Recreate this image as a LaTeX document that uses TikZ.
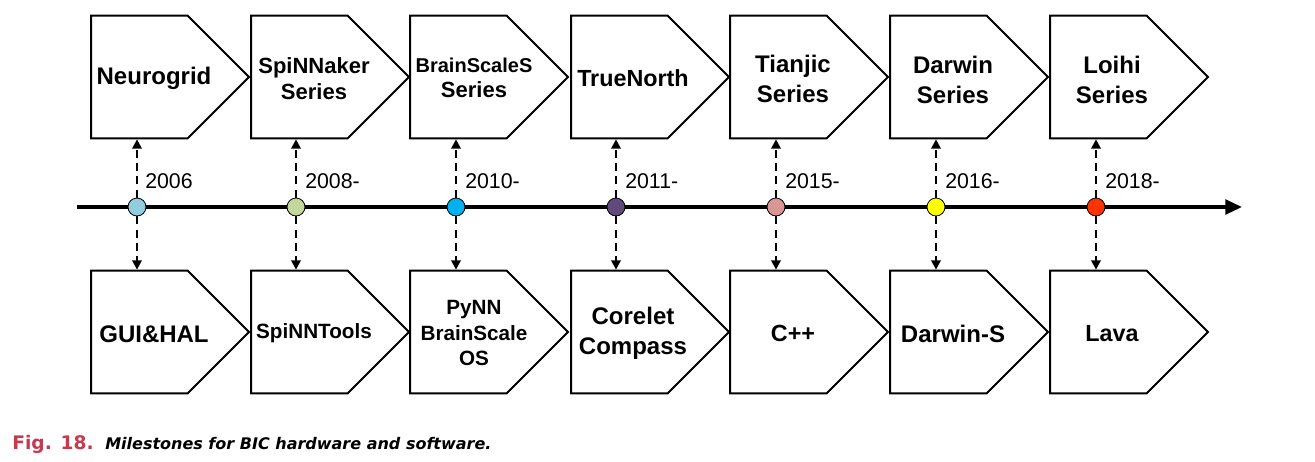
\documentclass[tikz,border=0pt]{standalone}
\usepackage{fontspec}
\setmainfont{Liberation Sans}
\newfontfamily\capfont{DejaVu Sans}
\usepackage{tikz}
\usetikzlibrary{shapes.symbols}
\usetikzlibrary{arrows.meta}
\definecolor{clrNeurogrid}{RGB}{146,205,220}
\definecolor{clrSpinnaker}{RGB}{195,214,155}
\definecolor{clrBrainscales}{RGB}{0,176,240}
\definecolor{clrTruenorth}{RGB}{96,74,123}
\definecolor{clrTianjic}{RGB}{217,150,148}
\definecolor{clrDarwin}{RGB}{255,255,0}
\definecolor{clrLoihi}{RGB}{255,51,0}
\definecolor{figred}{RGB}{196,58,78}

\begin{document}
\begin{tikzpicture}[x=0.75pt,y=0.75pt,yscale=-1,xscale=1,
  milestone/.style={draw, line width=1.5pt, fill=white, signal, signal to=east, signal pointer angle=90, minimum width=118.5pt, minimum height=92pt, inner sep=0pt, anchor=west},
  boxlabel/.style={font=\bfseries\fontsize{18}{22.5}\selectfont, align=center, inner sep=0.75pt},
  year/.style={font=\fontsize{16}{19}\selectfont, anchor=west, inner sep=0.75pt},
  event/.style={circle, draw, line width=0.6pt, minimum size=13.5pt, inner sep=0pt},
  link/.style={line width=1.7pt, dash pattern=on 6pt off 4pt, -{Triangle[length=7pt,width=7pt]}}]
\useasboundingbox (0,0) rectangle (1315,461);

%Timeline
\coordinate (tstart) at (77,207);
\coordinate (tend) at (1242,207);
\draw [line width=2.5pt, -{Triangle[length=12.5pt,width=11pt]}] (tstart) -- (tend);

%Hardware boxes
\node [milestone] (hw1) at (90,77) {};
\node [milestone] (hw2) at (250,77) {};
\node [milestone] (hw3) at (409,77) {};
\node [milestone] (hw4) at (570,77) {};
\node [milestone] (hw5) at (729,77) {};
\node [milestone] (hw6) at (889,77) {};
\node [milestone] (hw7) at (1049,77) {};

%Software boxes
\node [milestone] (sw1) at (90,332) {};
\node [milestone] (sw2) at (250,332) {};
\node [milestone] (sw3) at (409,332) {};
\node [milestone] (sw4) at (570,332) {};
\node [milestone] (sw5) at (729,332) {};
\node [milestone] (sw6) at (889,332) {};
\node [milestone] (sw7) at (1049,332) {};

% Text Node
\node [boxlabel] (hwtxt1) at (154,78) {Neurogrid};
% Text Node
\node [boxlabel, font=\bfseries\fontsize{16.5}{19.5}\selectfont] (hwtxt2) at (314,79) {SpiNNaker\\Series};
% Text Node
\node [boxlabel, font=\bfseries\fontsize{16.5}{19}\selectfont] (hwtxt3) at (474,78) {{\fontsize{15}{19}\selectfont BrainScaleS}\\Series};
% Text Node
\node [boxlabel, font=\bfseries\fontsize{17.5}{22}\selectfont] (hwtxt4) at (633,78) {TrueNorth};
% Text Node
\node [boxlabel] (hwtxt5) at (793,79) {Tianjic\\Series};
% Text Node
\node [boxlabel] (hwtxt6) at (953,80) {Darwin\\Series};
% Text Node
\node [boxlabel] (hwtxt7) at (1112,80) {Loihi\\Series};

% Text Node
\node [boxlabel] (swtxt1) at (154,334) {GUI\&HAL};
% Text Node
\node [boxlabel, font=\bfseries\fontsize{15.5}{19}\selectfont] (swtxt2) at (314,333) {SpiNNTools};
% Text Node
\node [boxlabel, font=\bfseries\fontsize{15.5}{19}\selectfont] (swtxt3) at (474,333) {PyNN\\BrainScale\\OS};
% Text Node
\node [boxlabel] (swtxt4) at (633,333) {Corelet\\Compass};
% Text Node
\node [boxlabel, font=\bfseries\fontsize{17.5}{22}\selectfont] (swtxt5) at (793,333) {C++};
% Text Node
\node [boxlabel] (swtxt6) at (953,334) {Darwin-S};
% Text Node
\node [boxlabel, font=\bfseries\fontsize{17.5}{22}\selectfont] (swtxt7) at (1112,334) {Lava};

%Events on the timeline
\node [event, fill=clrNeurogrid] (d1) at (137,207) {};
\node [event, fill=clrSpinnaker] (d2) at (296,207) {};
\node [event, fill=clrBrainscales] (d3) at (456,207) {};
\node [event, fill=clrTruenorth] (d4) at (616,207) {};
\node [event, fill=clrTianjic] (d5) at (776,207) {};
\node [event, fill=clrDarwin] (d6) at (936,207) {};
\node [event, fill=clrLoihi] (d7) at (1096,207) {};

% Years
\node [year] (yr1) at (144,181) {2006};
\node [year] (yr2) at (304,181) {2008-};
\node [year] (yr3) at (464,181) {2010-};
\node [year] (yr4) at (624,181) {2011-};
\node [year] (yr5) at (784,181) {2015-};
\node [year] (yr6) at (944,181) {2016-};
\node [year] (yr7) at (1104,181) {2018-};

%Links up to hardware
\draw [link] (d1) -- (d1 |- hw1.south);
\draw [link] (d2) -- (d2 |- hw2.south);
\draw [link] (d3) -- (d3 |- hw3.south);
\draw [link] (d4) -- (d4 |- hw4.south);
\draw [link] (d5) -- (d5 |- hw5.south);
\draw [link] (d6) -- (d6 |- hw6.south);
\draw [link] (d7) -- (d7 |- hw7.south);

%Links down to software
\draw [link] (d1) -- (d1 |- sw1.north);
\draw [link] (d2) -- (d2 |- sw2.north);
\draw [link] (d3) -- (d3 |- sw3.north);
\draw [link] (d4) -- (d4 |- sw4.north);
\draw [link] (d5) -- (d5 |- sw5.north);
\draw [link] (d6) -- (d6 |- sw6.north);
\draw [link] (d7) -- (d7 |- sw7.north);

% Caption
\node [anchor=base west, inner sep=0pt, text=figred, font=\capfont\bfseries\fontsize{14}{16}\selectfont] (fignum) at (12,449) {Fig. 18.};
\node [anchor=base west, inner sep=0pt, font=\capfont\bfseries\itshape\fontsize{12}{14}\selectfont] (figcap) at (105,449) {Milestones for BIC hardware and software.};

\end{tikzpicture}
\end{document}
